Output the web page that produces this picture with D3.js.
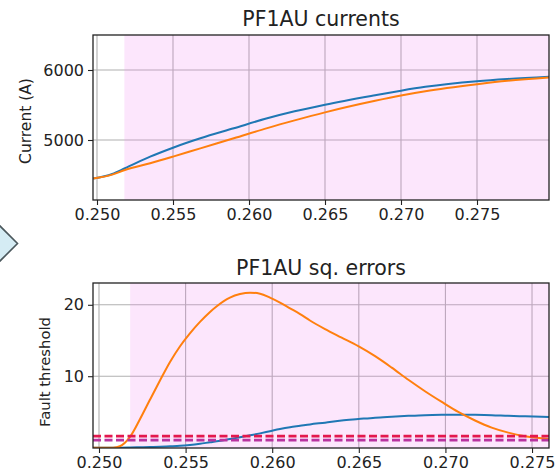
<!DOCTYPE html>
<html>
<head>
<meta charset="utf-8">
<script src="https://cdn.jsdelivr.net/npm/d3@7"></script>
<style>
  html, body { margin: 0; padding: 0; background: #fff; }
  svg { display: block; font-family: "DejaVu Sans", sans-serif; }
</style>
</head>
<body>
<svg id="chart" width="555" height="475"></svg>
<script>
// ---------- data ----------
const xTicks = [0.250, 0.255, 0.260, 0.265, 0.270, 0.275];
const curTicks = [5000, 6000];
const errTicks = [10, 20];
const faultStart = 0.2518;

const curT = [0.24975, 0.2510, 0.25184, 0.2535, 0.2550, 0.2568, 0.2590, 0.2612, 0.2630, 0.2650, 0.2683, 0.2700, 0.2716, 0.2750, 0.2770, 0.27974];
const curBlue = [4450, 4515, 4596, 4762, 4890, 5024, 5167, 5310, 5410, 5505, 5640, 5705, 5760, 5840, 5872, 5905];
const curOrange = [4450, 4505, 4571, 4667, 4762, 4881, 5024, 5170, 5280, 5395, 5560, 5635, 5695, 5795, 5845, 5892];

const errT = [0.24965, 0.25081, 0.25121, 0.25179, 0.25237, 0.25294, 0.25352, 0.25410, 0.25468, 0.25525,
              0.25583, 0.25641, 0.25680, 0.25756, 0.25814, 0.25872, 0.25930, 0.25987, 0.26045, 0.26103,
              0.26161, 0.26218, 0.26305, 0.26401, 0.26497, 0.26594, 0.26690, 0.26786, 0.26882, 0.26979,
              0.27074, 0.27171, 0.27267, 0.27363, 0.27460, 0.27556, 0.27598];
const errOrange = [0, 0, 0.2, 1.5, 4.0, 6.7, 9.4, 12.0, 14.2, 16.0,
                   17.6, 19.0, 19.8, 21.0, 21.5, 21.7, 21.55, 21.0, 20.3, 19.5,
                   18.7, 17.8, 16.6, 15.4, 14.2, 12.8, 11.2, 9.5, 7.9, 6.4,
                   5.0, 3.8, 2.8, 2.1, 1.6, 1.3, 1.2];
const errBlue = [0, 0, 0, 0.02, 0.05, 0.08, 0.12, 0.18, 0.25, 0.38,
                 0.55, 0.75, 0.88, 1.2, 1.45, 1.72, 2.0, 2.3, 2.6, 2.85,
                 3.05, 3.25, 3.5, 3.8, 4.0, 4.2, 4.33, 4.45, 4.55, 4.6,
                 4.62, 4.6, 4.55, 4.45, 4.38, 4.32, 4.3];
const thresholds = [1.6, 1.05];
const thresholdColors = ["#e3184e", "#b8339f"];

// ---------- drawing ----------
const svg = d3.select("#chart");

// decorative arrow shape at left edge
svg.append("path")
  .attr("d", "M-14,212 L17.5,243.5 L-14,275 Z")
  .attr("fill", "#d5ecf4")
  .attr("stroke", "#4b585d")
  .attr("stroke-width", 1.6);

function panel(opts) {
  const {left, right, top, bottom, xDomain, yDomain, yTicks, title, titleY, yLabel, yLabelX, yLabelY, yLabelSize, id} = opts;
  const x = d3.scaleLinear().domain(xDomain).range([left, right]);
  const y = d3.scaleLinear().domain(yDomain).range([bottom, top]);
  const g = svg.append("g");

  g.append("clipPath").attr("id", id).append("rect")
    .attr("x", left).attr("y", top).attr("width", right - left).attr("height", bottom - top);

  // grid
  g.append("g").selectAll("line").data(xTicks).join("line")
    .attr("x1", d => x(d)).attr("x2", d => x(d)).attr("y1", top).attr("y2", bottom)
    .attr("stroke", "#b0b0b0").attr("stroke-width", 1.1);
  g.append("g").selectAll("line").data(yTicks).join("line")
    .attr("x1", left).attr("x2", right).attr("y1", d => y(d)).attr("y2", d => y(d))
    .attr("stroke", "#b0b0b0").attr("stroke-width", 1.1);

  // fault span
  g.append("rect")
    .attr("x", x(faultStart)).attr("y", top)
    .attr("width", right - x(faultStart)).attr("height", bottom - top)
    .attr("fill", "violet").attr("opacity", 0.2);

  const plot = g.append("g").attr("clip-path", `url(#${id})`);

  // axes
  const xAxis = d3.axisBottom(x).tickValues(xTicks).tickFormat(d3.format(".3f")).tickSize(5).tickPadding(4);
  const yAxis = d3.axisLeft(y).tickValues(yTicks).tickFormat(d3.format("d")).tickSize(5).tickPadding(4);
  const gx = g.append("g").attr("transform", `translate(0,${bottom})`).call(xAxis);
  const gy = g.append("g").attr("transform", `translate(${left},0)`).call(yAxis);
  [gx, gy].forEach(a => {
    a.select(".domain").remove();
    a.selectAll("line").attr("stroke", "#222").attr("stroke-width", 1.1);
    a.selectAll("text").attr("fill", "#222").style("font-size", "16px").style("font-family", "DejaVu Sans");
  });

  g.append("text").attr("x", (left + right) / 2).attr("y", titleY)
    .attr("text-anchor", "middle").attr("fill", "#222")
    .style("font-size", "20.5px").text(title);

  g.append("text")
    .attr("transform", `translate(${yLabelX},${yLabelY}) rotate(-90)`)
    .attr("text-anchor", "middle").attr("fill", "#222")
    .style("font-size", yLabelSize + "px").text(yLabel);

  const frame = () => g.append("rect")
    .attr("x", left).attr("y", top).attr("width", right - left).attr("height", bottom - top)
    .attr("fill", "none").attr("stroke", "#222").attr("stroke-width", 1.3);

  return {x, y, plot, frame};
}

// top panel: currents
const p1 = panel({left: 93, right: 549, top: 35, bottom: 200,
  xDomain: [0.249737, 0.279737], yDomain: [4142.9, 6500], yTicks: curTicks,
  title: "PF1AU currents", titleY: 26, yLabel: "Current (A)", yLabelX: 31, yLabelY: 121, yLabelSize: 15.5, id: "clip1"});

const line1 = vals => d3.line().x((d, i) => p1.x(curT[i])).y(d => p1.y(d)).curve(d3.curveMonotoneX)(vals);
p1.plot.append("path").attr("d", line1(curBlue)).attr("fill", "none").attr("stroke", "#1f77b4").attr("stroke-width", 2);
p1.plot.append("path").attr("d", line1(curOrange)).attr("fill", "none").attr("stroke", "#ff7f0e").attr("stroke-width", 2);
p1.frame();

// bottom panel: squared errors
const p2 = panel({left: 93, right: 549, top: 283, bottom: 448,
  xDomain: [0.249654, 0.27598], yDomain: [-0.05, 23.05], yTicks: errTicks,
  title: "PF1AU sq. errors", titleY: 275, yLabel: "Fault threshold", yLabelX: 50, yLabelY: 372, yLabelSize: 14.8, id: "clip2"});

const line2 = vals => d3.line().x((d, i) => p2.x(errT[i])).y(d => p2.y(d)).curve(d3.curveMonotoneX)(vals);
p2.plot.append("path").attr("d", line2(errBlue)).attr("fill", "none").attr("stroke", "#1f77b4").attr("stroke-width", 2);
p2.plot.append("path").attr("d", line2(errOrange)).attr("fill", "none").attr("stroke", "#ff7f0e").attr("stroke-width", 2);
p2.plot.selectAll("line.thr").data(thresholds).join("line").attr("class", "thr")
  .attr("x1", p2.x.range()[0]).attr("x2", p2.x.range()[1])
  .attr("y1", d => p2.y(d)).attr("y2", d => p2.y(d))
  .attr("stroke", (d, i) => thresholdColors[i]).attr("stroke-width", 2.8)
  .attr("stroke-dasharray", "8,3.5");
p2.frame();
</script>
</body>
</html>
